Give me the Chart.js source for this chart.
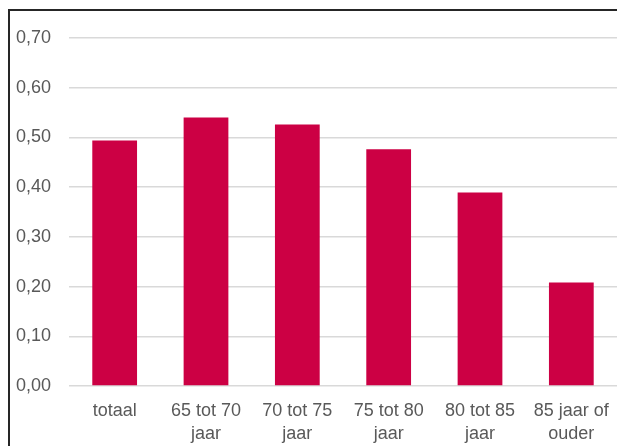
<!DOCTYPE html>
<html>
<head>
<meta charset="utf-8">
<script src="https://cdn.jsdelivr.net/npm/chart.js@4/dist/chart.umd.min.js"></script>
<style>
  html, body { margin: 0; padding: 0; background: #ffffff; overflow: hidden; }
  #chart { display: block; }
</style>
</head>
<body>
<canvas id="chart" width="617" height="446"></canvas>
<script>
// Age groups on the x axis (two-line labels)
const categories = [
  ['totaal'],
  ['65 tot 70', 'jaar'],
  ['70 tot 75', 'jaar'],
  ['75 tot 80', 'jaar'],
  ['80 tot 85', 'jaar'],
  ['85 jaar of', 'ouder']
];

// Value per age group
const values = [0.494, 0.540, 0.526, 0.476, 0.389, 0.208];

// Y axis tick labels, 0,00 to 0,70
const yTickLabels = ['0,00', '0,10', '0,20', '0,30', '0,40', '0,50', '0,60', '0,70'];

const textColor = '#595959';
const font = { family: 'Liberation Sans, Arial, sans-serif', size: 18 };

// Dark frame line along the top and left edge of the figure
const framePlugin = {
  id: 'frame',
  afterDraw(chart) {
    const ctx = chart.ctx;
    ctx.save();
    ctx.strokeStyle = '#262626';
    ctx.lineWidth = 2;
    ctx.beginPath();
    ctx.moveTo(9, chart.height);
    ctx.lineTo(9, 10);
    ctx.lineTo(chart.width, 10);
    ctx.stroke();
    ctx.restore();
  }
};

new Chart(document.getElementById('chart'), {
  type: 'bar',
  data: {
    labels: categories,
    datasets: [{
      data: values,
      backgroundColor: '#cc0044',
      borderWidth: 0,
      categoryPercentage: 1,
      barPercentage: 0.49
    }]
  },
  plugins: [framePlugin],
  options: {
    responsive: false,
    animation: false,
    devicePixelRatio: 1,
    events: [],
    layout: { padding: { top: 38, right: 0, left: 0, bottom: 0 } },
    plugins: { legend: { display: false }, tooltip: { enabled: false } },
    scales: {
      x: {
        grid: { display: false, drawTicks: false },
        border: { display: false },
        ticks: {
          color: textColor,
          font: Object.assign({ lineHeight: 1.25 }, font),
          padding: 14,
          maxRotation: 0,
          autoSkip: false
        },
        afterFit: (scale) => {
          scale.height = 60;
          scale.paddingLeft = 0;
          scale.paddingRight = 0;
        }
      },
      y: {
        min: 0,
        max: 0.7,
        grid: { color: '#d9d9d9', lineWidth: 1.5, drawTicks: false },
        border: { display: false },
        ticks: {
          stepSize: 0.1,
          color: textColor,
          font: font,
          padding: 18,
          callback: (value, index) => yTickLabels[index]
        },
        afterFit: (scale) => { scale.width = 69; }
      }
    }
  }
});
</script>
</body>
</html>
